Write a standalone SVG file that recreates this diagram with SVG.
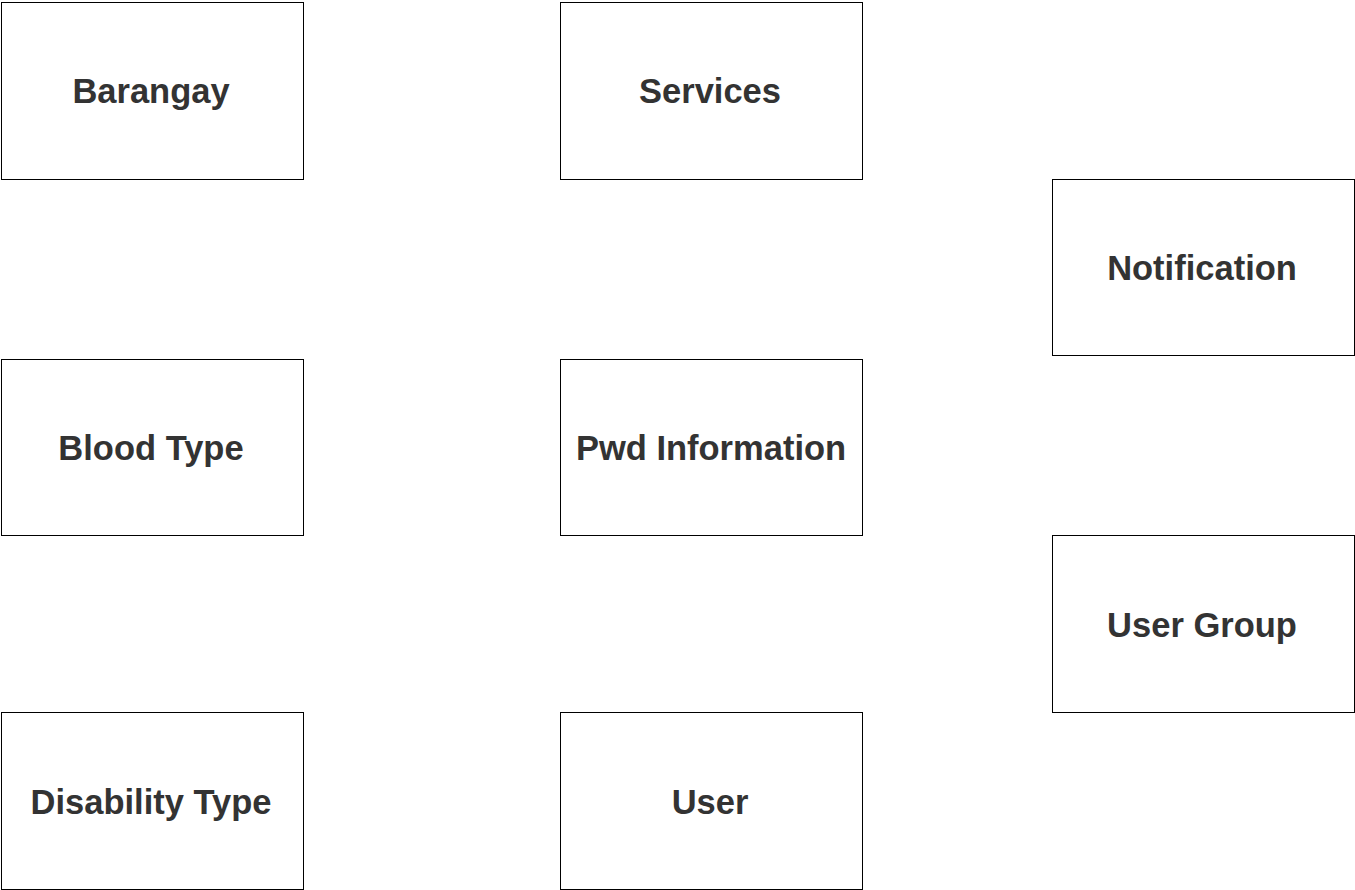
<svg xmlns="http://www.w3.org/2000/svg" width="1355" height="890" viewBox="0 0 1355 890">
<style>
.box{fill:#fff;stroke:#000;stroke-width:1}
.lbl{font-family:"Liberation Sans",Arial,sans-serif;font-weight:bold;font-size:34.5px;fill:#333;text-anchor:middle}
</style>
<rect width="1355" height="890" fill="#fff"/>
<g id="connectors"></g>
<g id="barangay"><rect class="box" x="1.5" y="2.5" width="302" height="177"/><text class="lbl" x="151" y="103">Barangay</text></g>
<g id="services"><rect class="box" x="560.5" y="2.5" width="302" height="177"/><text class="lbl" x="710" y="103">Services</text></g>
<g id="notification"><rect class="box" x="1052.5" y="179.5" width="302" height="176"/><text class="lbl" x="1202" y="280">Notification</text></g>
<g id="bloodtype"><rect class="box" x="1.5" y="359.5" width="302" height="176"/><text class="lbl" x="151" y="460">Blood Type</text></g>
<g id="pwdinfo"><rect class="box" x="560.5" y="359.5" width="302" height="176"/><text class="lbl" x="711" y="460">Pwd Information</text></g>
<g id="usergroup"><rect class="box" x="1052.5" y="535.5" width="302" height="177"/><text class="lbl" x="1202" y="637">User Group</text></g>
<g id="disability"><rect class="box" x="1.5" y="712.5" width="302" height="177"/><text class="lbl" x="151" y="814">Disability Type</text></g>
<g id="user"><rect class="box" x="560.5" y="712.5" width="302" height="177"/><text class="lbl" x="710" y="814">User</text></g>
</svg>
